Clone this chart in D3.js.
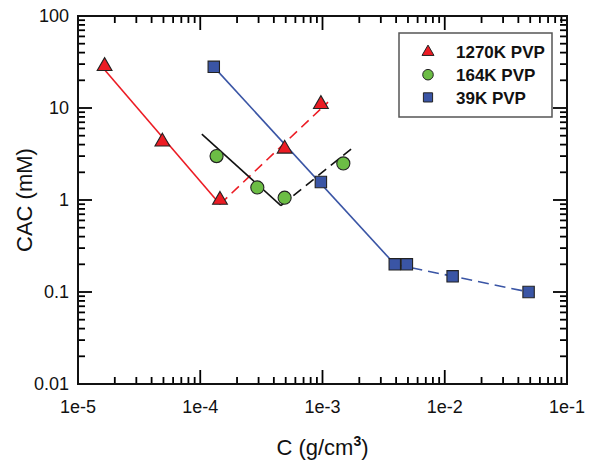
<!DOCTYPE html>
<html>
<head>
<meta charset="utf-8">
<script src="https://cdn.jsdelivr.net/npm/d3@7"></script>
<style>
  body { margin: 0; background: #fff; }
  text { font-family: Arial, "Liberation Sans", sans-serif; }
</style>
</head>
<body>
<div id="chart"></div>
<script>
// data
const seriesNames = ["1270K PVP", "164K PVP", "39K PVP"];

const c1270 = [1.65e-5, 4.9e-5, 1.45e-4, 4.9e-4, 9.7e-4];
const cac1270 = [28.5, 4.3, 1.0, 3.6, 11];

const c164 = [1.36e-4, 2.93e-4, 4.9e-4, 1.48e-3];
const cac164 = [3.0, 1.37, 1.06, 2.5];

const c39 = [1.29e-4, 9.7e-4, 3.9e-3, 4.9e-3, 1.16e-2, 4.85e-2];
const cac39 = [28, 1.57, 0.2, 0.2, 0.148, 0.1];

// fitted guide lines [C, CAC] end points
const fit1270Solid = [[1.61e-5, 27], [1.45e-4, 0.9]];
const fit1270Dash = [[1.45e-4, 0.9], [1.11e-3, 11.6]];
const fit164Solid = [[1.03e-4, 5.2], [4.57e-4, 0.87]];
const fit164Dash = [[4.57e-4, 0.87], [1.75e-3, 3.65]];
const fit39Solid = [[1.29e-4, 28], [3.9e-3, 0.2]];
const fit39Dash = [[3.9e-3, 0.2], [4.85e-2, 0.1]];

const xTickLabels = ["1e-5", "1e-4", "1e-3", "1e-2", "1e-1"];
const yTickLabels = ["0.01", "0.1", "1", "10", "100"];

const width = 597, height = 464;
const margin = { left: 78, right: 30, top: 16, bottom: 80 };

const svg = d3.select("#chart").append("svg")
  .attr("width", width)
  .attr("height", height);

const x = d3.scaleLog().domain([1e-5, 1e-1]).range([margin.left, width - margin.right]);
const y = d3.scaleLog().domain([0.01, 100]).range([height - margin.bottom, margin.top]);

const xMajor = [1e-5, 1e-4, 1e-3, 1e-2, 1e-1];
const yMajor = [0.01, 0.1, 1, 10, 100];
const minorOf = majors => {
  const out = [];
  majors.slice(0, -1).forEach(m => { for (let k = 2; k <= 9; k++) out.push(m * k); });
  return out;
};
const xMinor = minorOf(xMajor);
const yMinor = minorOf(yMajor);

const x0 = x.range()[0], x1 = x.range()[1];
const y0 = y.range()[0], y1 = y.range()[1];

// inward tick marks on all four sides
const ticks = svg.append("g").attr("stroke", "#000").attr("stroke-width", 1.8);
const xTicks = xMajor.map(v => ({ v, len: 14 })).concat(xMinor.map(v => ({ v, len: 7 })));
const yTicks = yMajor.map(v => ({ v, len: 14 })).concat(yMinor.map(v => ({ v, len: 7 })));

[[y0, -1], [y1, 1]].forEach(([base, dir]) => {
  ticks.selectAll(null).data(xTicks).enter().append("line")
    .attr("x1", d => x(d.v)).attr("x2", d => x(d.v))
    .attr("y1", base).attr("y2", d => base + dir * d.len);
});
[[x0, 1], [x1, -1]].forEach(([base, dir]) => {
  ticks.selectAll(null).data(yTicks).enter().append("line")
    .attr("y1", d => y(d.v)).attr("y2", d => y(d.v))
    .attr("x1", base).attr("x2", d => base + dir * d.len);
});

// tick labels
svg.append("g").selectAll("text")
  .data(xMajor)
  .enter().append("text")
  .attr("x", d => x(d))
  .attr("y", y0 + 29)
  .attr("text-anchor", "middle")
  .attr("font-size", 18).attr("fill", "#111")
  .text((d, i) => xTickLabels[i]);

svg.append("g").selectAll("text")
  .data(yMajor)
  .enter().append("text")
  .attr("x", x0 - 9)
  .attr("y", d => y(d))
  .attr("dy", "0.36em")
  .attr("text-anchor", "end")
  .attr("font-size", 18).attr("fill", "#111")
  .text((d, i) => yTickLabels[i]);

// frame
svg.append("rect")
  .attr("x", x0).attr("y", y1)
  .attr("width", x1 - x0).attr("height", y0 - y1)
  .attr("fill", "none").attr("stroke", "#111").attr("stroke-width", 2);

// axis titles
const xt = svg.append("text")
  .attr("x", (x0 + x1) / 2).attr("y", 455)
  .attr("text-anchor", "middle")
  .attr("font-size", 22).attr("fill", "#111");
xt.append("tspan").text("C (g/cm");
xt.append("tspan").text("3").attr("font-size", 14).attr("font-weight", "bold").attr("dy", -9);
xt.append("tspan").text(")").attr("dy", 9);

svg.append("text")
  .attr("transform", `translate(32,${(y0 + y1) / 2}) rotate(-90)`)
  .attr("text-anchor", "middle")
  .attr("font-size", 22).attr("fill", "#111")
  .text("CAC (mM)");

// fit lines
const line = d3.line().x(d => x(d[0])).y(d => y(d[1]));
const fits = [
  { d: fit1270Solid, color: "#ec1c24", dash: null },
  { d: fit1270Dash, color: "#ec1c24", dash: "10,6" },
  { d: fit164Solid, color: "#111", dash: null },
  { d: fit164Dash, color: "#111", dash: "10,6" },
  { d: fit39Solid, color: "#3a55a5", dash: null },
  { d: fit39Dash, color: "#3a55a5", dash: "11,6" }
];
svg.append("g").selectAll("path")
  .data(fits)
  .enter().append("path")
  .attr("d", f => line(f.d))
  .attr("fill", "none")
  .attr("stroke", f => f.color)
  .attr("stroke-width", 1.6)
  .attr("stroke-dasharray", f => f.dash);

// markers
const series = [
  { name: seriesNames[0], xs: c1270, ys: cac1270, fill: "#ec1c24", sym: d3.symbolTriangle, size: 95 },
  { name: seriesNames[1], xs: c164, ys: cac164, fill: "#6cbd45", sym: d3.symbolCircle, size: 135 },
  { name: seriesNames[2], xs: c39, ys: cac39, fill: "#3a55a5", sym: d3.symbolSquare, size: 130 }
];

series.forEach(s => {
  svg.append("g").selectAll("path")
    .data(s.xs.map((v, i) => [v, s.ys[i]]))
    .enter().append("path")
    .attr("d", d3.symbol().type(s.sym).size(s.size))
    .attr("transform", d => `translate(${x(d[0])},${y(d[1])})`)
    .attr("fill", s.fill)
    .attr("stroke", "#222")
    .attr("stroke-width", 1.1);
});

// legend
const legend = svg.append("g");
legend.append("rect")
  .attr("x", 399).attr("y", 33)
  .attr("width", 153).attr("height", 84)
  .attr("fill", "#fff").attr("stroke", "#555").attr("stroke-width", 1.5);

const items = legend.selectAll(".legend")
  .data(series)
  .enter().append("g")
  .attr("class", "legend")
  .attr("transform", (d, i) => `translate(428,${52 + i * 22.7})`);

items.append("path")
  .attr("d", d => d3.symbol().type(d.sym).size(d.size * 0.65)())
  .attr("fill", d => d.fill)
  .attr("stroke", "#222")
  .attr("stroke-width", 1);

items.append("text")
  .attr("x", 28)
  .attr("dy", "0.36em")
  .attr("font-size", 17)
  .attr("font-weight", "bold")
  .attr("fill", "#111")
  .text(d => d.name);
</script>
</body>
</html>
